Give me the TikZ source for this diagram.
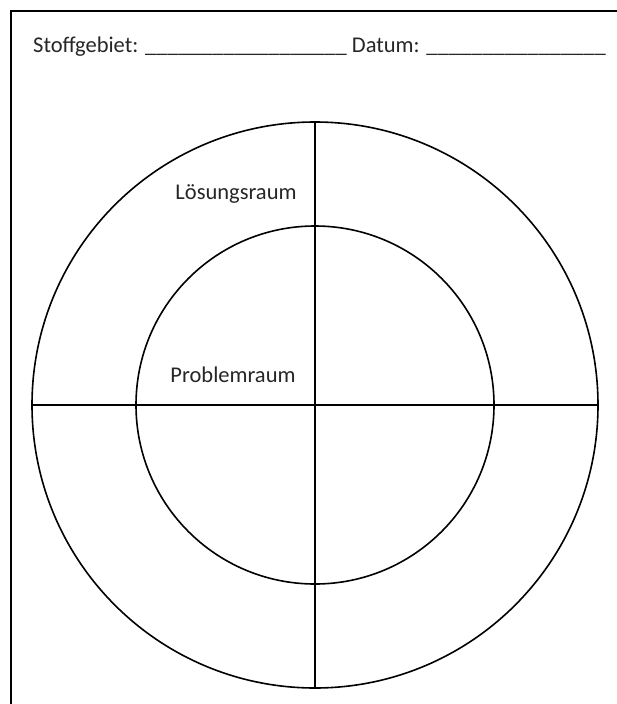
\documentclass[tikz,border=0pt]{standalone}
\usepackage{fontspec}
\setmainfont{Carlito}
\begin{document}
\begin{tikzpicture}[x=1pt,y=1pt,
  ring/.style={circle, draw, line width=1.6pt, inner sep=0pt},
  lbl/.style={font=\fontsize{22.5}{27}\selectfont, text=black!85, inner sep=0pt}]
\useasboundingbox (0,0) rectangle (617,-704);
\begin{scope}
\clip (0,0) rectangle (617,-704);
\draw[line width=1.4pt] (11,-11) rectangle (660,-760);
\end{scope}
\node[lbl, anchor=base west] (head) at (33,-52) {Stoffgebiet: \_\_\_\_\_\_\_\_\_\_\_\_\_\_\_\_\_\_ Datum: \_\_\_\_\_\_\_\_\_\_\_\_\_\_\_\_};
\node[ring, minimum size=566pt] (outer) at (315,-405) {};
\node[ring, minimum size=358pt] (inner) at (315,-405) {};
\draw[line width=1.6pt] (outer.north) -- (outer.south);
\draw[line width=1.6pt] (outer.west) -- (outer.east);
\node[lbl] (loes) at (236,-194) {Lösungsraum};
\node[lbl] (prob) at (233,-375) {Problemraum};
\end{tikzpicture}
\end{document}
